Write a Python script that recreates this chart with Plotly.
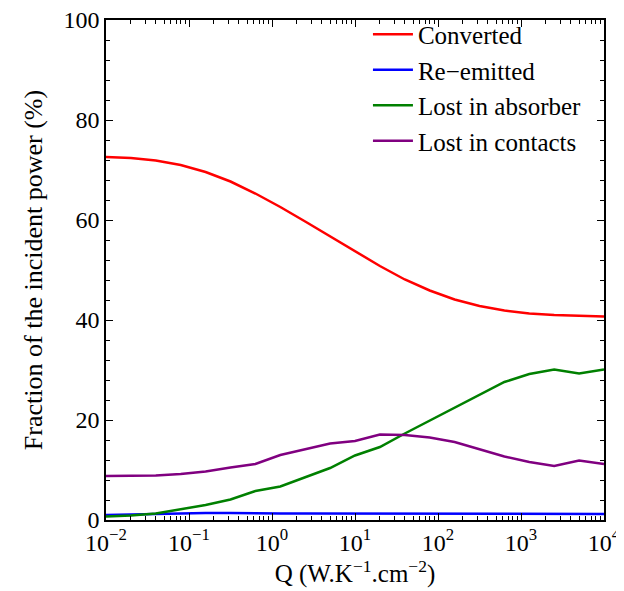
import numpy as np
import plotly.graph_objects as go

q_values = [0.01, 0.01995, 0.03981, 0.07943, 0.1585, 0.3162, 0.631, 1.259, 2.512, 5.012,
            10.0, 19.95, 39.81, 79.43, 158.5, 316.2, 631.0, 1259.0, 2512.0, 5012.0, 10000.0]
converted = [72.6, 72.4, 71.9, 71.0, 69.6, 67.7, 65.3, 62.6, 59.7, 56.7, 53.7, 50.8, 48.1,
             45.9, 44.1, 42.8, 41.9, 41.3, 41.0, 40.8, 40.7]
re_emitted = [1.0, 1.1, 1.3, 1.4, 1.4, 1.4, 1.3, 1.3, 1.3, 1.3, 1.3, 1.2, 1.2, 1.3, 1.3,
              1.2, 1.2, 1.2, 1.3, 1.2, 1.2]
lost_absorber = [0.7, 0.9, 1.3, 2.1, 3.0, 4.1, 5.8, 6.7, 8.5, 10.4, 12.9, 14.6, 17.3, 19.9,
                 22.5, 25.1, 27.6, 29.2, 30.1, 29.3, 30.1]
lost_contacts = [8.8, 8.8, 8.9, 9.2, 9.7, 10.5, 11.2, 13.0, 14.1, 15.3, 15.8, 17.1, 17.0,
                 16.5, 15.6, 14.2, 12.7, 11.6, 10.8, 11.9, 11.2]

x_tick_vals = [0.01, 0.1, 1, 10, 100, 1000, 10000]
x_tick_text = ["10<sup>\u22122</sup>", "10<sup>\u22121</sup>", "10<sup>0</sup>", "10<sup>1</sup>",
               "10<sup>2</sup>", "10<sup>3</sup>", "10<sup>4</sup>"]
y_tick_vals = [0, 20, 40, 60, 80, 100]

series = [("Converted", converted, "#ff0000"),
          ("Re\u2212emitted", re_emitted, "#0000ff"),
          ("Lost in absorber", lost_absorber, "#008000"),
          ("Lost in contacts", lost_contacts, "#800080")]

fig = go.Figure()
for name, vals, color in series:
    fig.add_trace(go.Scatter(x=q_values, y=vals, mode="lines", name=name,
                             line=dict(color=color, width=2.5)))

font = "Liberation Serif, Times New Roman, serif"
fig.update_layout(
    width=624, height=591,
    margin=dict(l=98, r=28, t=12, b=79, autoexpand=False),
    paper_bgcolor="white", plot_bgcolor="white",
    font=dict(family=font, size=25, color="black"),
    showlegend=True,
    legend=dict(x=0.526, y=1.017, xanchor="left", yanchor="top",
                bgcolor="rgba(0,0,0,0)", font=dict(size=25, family=font),
                tracegroupgap=0, itemwidth=40),
)
fig.update_xaxes(
    type="log", range=[-2, 4], tickvals=x_tick_vals, ticktext=x_tick_text,
    showgrid=False, zeroline=False, automargin=False, ticklabeloverflow="allow",
    showline=True, linecolor="black", linewidth=1.5, mirror="ticks",
    ticks="inside", ticklen=7, tickcolor="black",
    minor=dict(ticks="inside", ticklen=4, dtick="D1", tickcolor="black", showgrid=False),
    tickfont=dict(size=24),
    title=dict(text="Q (W.K<sup>\u22121</sup>.cm<sup>\u22122</sup>)", font=dict(size=25), standoff=1),
)
fig.update_yaxes(
    range=[0, 100], tickvals=y_tick_vals,
    showgrid=False, zeroline=False, automargin=False, ticklabeloverflow="allow",
    showline=True, linecolor="black", linewidth=1.5, mirror="ticks",
    ticks="inside", ticklen=7, tickcolor="black",
    minor=dict(ticks="inside", ticklen=4, dtick=4, tickcolor="black", showgrid=False),
    tickfont=dict(size=24),
    title=dict(text="Fraction of the incident power (%)", font=dict(size=26), standoff=13),
)

fig.write_html("out.html")
